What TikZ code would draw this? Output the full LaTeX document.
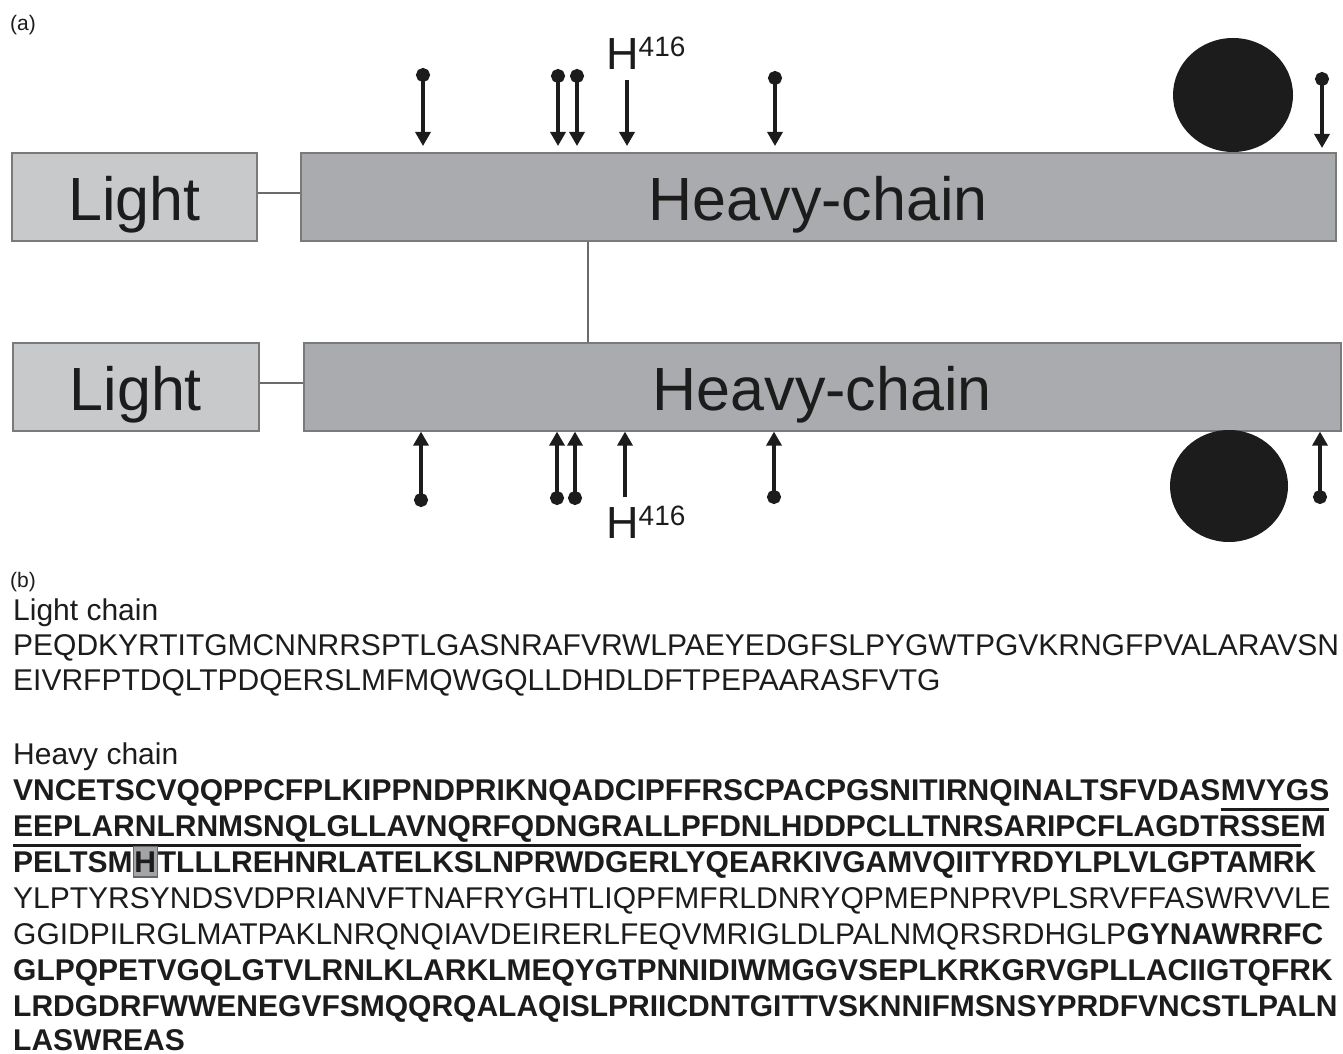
\documentclass[tikz,border=0pt]{standalone}
\usepackage{fontspec}
\setmainfont{Liberation Sans}
\usetikzlibrary{arrows.meta,shapes.geometric}
\definecolor{ink}{HTML}{1C1C1C}
\definecolor{lightfill}{HTML}{C8C9CB}
\definecolor{heavyfill}{HTML}{AAABAE}
\definecolor{boxline}{HTML}{7A7A7A}
\definecolor{linkcol}{HTML}{6B6B6B}
\definecolor{hlfill}{HTML}{A3A4A7}
\definecolor{hlline}{HTML}{666666}
\begin{document}
\begin{tikzpicture}[x=1pt,y=-1pt,
  lightbox/.style={draw=boxline, line width=1.6pt, fill=lightfill, inner sep=0, anchor=north west, minimum height=88pt},
  heavybox/.style={draw=boxline, line width=1.6pt, fill=heavyfill, inner sep=0, anchor=north west, minimum height=88pt},
  bigtxt/.style={anchor=base, inner sep=0, text=ink, font=\fontsize{61}{70}\selectfont},
  link/.style={draw=linkcol, line width=1.5pt},
  pinarrow/.style={draw=ink, line width=3.3pt, {Circle[length=14pt]}-{Triangle[width=15pt,length=14pt]}},
  plainarrow/.style={draw=ink, line width=3.3pt, -{Triangle[width=15pt,length=14pt]}},
  blob/.style={ellipse, fill=ink, inner sep=0},
  hlabel/.style={anchor=base west, inner sep=0, text=ink, font=\fontsize{45}{50}\selectfont},
  panel/.style={anchor=base west, inner sep=0, text=ink, font=\fontsize{21}{25}\selectfont},
  seq/.style={anchor=base west, inner sep=0, text=ink, font=\fontsize{30}{36}\selectfont},
  seqb/.style={anchor=base west, inner sep=0, text=ink, font=\fontsize{30}{36}\selectfont\bfseries},
  uline/.style={draw=ink, line width=2.6pt},
  hlbox/.style={seqb, fill=hlfill, draw=hlline, line width=1.2pt, inner xsep=1pt, inner ysep=5pt}
]
\useasboundingbox (0,0) rectangle (1343,1054);

% ---------- panel (a) ----------
\node[panel] (pa) at (10,31) {(a)};

\node[lightbox, minimum width=245pt] (lb1) at (11,152) {};
\node[heavybox, minimum width=1035pt] (hb1) at (300,152) {};
\node[lightbox, minimum width=246pt] (lb2) at (12,342) {};
\node[heavybox, minimum width=1037pt] (hb2) at (303,342) {};

\node[bigtxt] (lt1) at ([yshift=-23.5pt]lb1.center) {Light};
\node[bigtxt] (ht1) at ([yshift=-23.5pt]hb1.center) {Heavy-chain};
\node[bigtxt] (lt2) at ([yshift=-23.5pt]lb2.center) {Light};
\node[bigtxt] (ht2) at ([yshift=-23.5pt]hb2.center) {Heavy-chain};

\draw[link] ([yshift=4pt]lb1.east) -- ([yshift=4pt]lb1.east -| hb1.west);
\draw[link] ([yshift=4pt]lb2.east) -- ([yshift=4pt]lb2.east -| hb2.west);
\coordinate (vx) at (588,290);
\draw[link] (vx |- hb1.south) -- (vx |- hb2.north);

% top arrows (dot above, pointing down)
\coordinate (t1) at (423,68);
\coordinate (t2) at (558,69);
\coordinate (t3) at (577,69);
\coordinate (tH) at (627,80);
\coordinate (t4) at (775,71);
\coordinate (t5) at (1322,72);
\draw[pinarrow, shorten >=6pt] (t1) -- (t1 |- hb1.north);
\draw[pinarrow, shorten >=6pt] (t2) -- (t2 |- hb1.north);
\draw[pinarrow, shorten >=6pt] (t3) -- (t3 |- hb1.north);
\draw[plainarrow, shorten >=6pt] (tH) -- (tH |- hb1.north);
\draw[pinarrow, shorten >=6pt] (t4) -- (t4 |- hb1.north);
\draw[pinarrow, shorten >=4pt] (t5) -- (t5 |- hb1.north);
\node[hlabel] (h416a) at (606,70) {H\raisebox{13pt}{\fontsize{28}{30}\selectfont 416}};
\node[blob, minimum width=120pt, minimum height=114pt] (g1) at (1233,95) {};

% bottom arrows (dot below, pointing up)
\coordinate (b1) at (421,507);
\coordinate (b2) at (557,505);
\coordinate (b3) at (575,505);
\coordinate (bH) at (625,497);
\coordinate (b4) at (774,504);
\coordinate (b5) at (1320,504);
\draw[pinarrow] (b1) -- (b1 |- hb2.south);
\draw[pinarrow] (b2) -- (b2 |- hb2.south);
\draw[pinarrow] (b3) -- (b3 |- hb2.south);
\draw[plainarrow] (bH) -- (bH |- hb2.south);
\draw[pinarrow] (b4) -- (b4 |- hb2.south);
\draw[pinarrow] (b5) -- (b5 |- hb2.south);
\node[hlabel] (h416b) at (606,538) {H\raisebox{13pt}{\fontsize{28}{30}\selectfont 416}};
\node[blob, minimum width=118pt, minimum height=112pt] (g2) at (1229,486) {};

% ---------- panel (b) ----------
\node[panel] (pb) at (10,587) {(b)};
\node[seq] (lc) at (13,620) {Light chain};
\node[seq] (l1) at (13,655) {PEQDKYRTITGMCNNRRSPTLGASNRAFVRWLPAEYEDGFSLPYGWTPGVKRNGFPVALARAVSN};
\node[seq] (l2) at (13,690) {EIVRFPTDQLTPDQERSLMFMQWGQLLDHDLDFTPEPAARASFVTG};

\node[seq] (hc) at (13,764) {Heavy chain};
\node[seqb] (h1a) at (13,800) {VNCETSCVQQPPCFPLKIPPNDPRIKNQADCIPFFRSCPACPGSNITIRNQINALTSFVDAS};
\node[seqb] (h1b) at (h1a.base east) {MVYGS};
\draw[uline] ([yshift=-9.5pt]h1b.base west) -- ([yshift=-9.5pt]h1b.base east);

\node[seqb] (h2a) at (13,836) {EEPLARNLRNMSNQLGLLAVNQRFQDNGRALLPFDNLHDDPCLLTNRSARIPCFLAGDTRSSE};
\node[seqb] (h2b) at (h2a.base east) {M};
\draw[uline] ([yshift=-9.5pt]h2a.base west) -- ([yshift=-9.5pt]h2a.base east);

\node[seqb] (h3a) at (13,872) {PELTSM};
\node[hlbox] (h3h) at (h3a.base east) {H};
\node[seqb] (h3b) at (h3h.base east) {TLLLREHNRLATELKSLNPRWDGERLYQEARKIVGAMVQIITYRDYLPLVLGPTAMRK};

\node[seq] (h4) at (13,908) {YLPTYRSYNDSVDPRIANVFTNAFRYGHTLIQPFMFRLDNRYQPMEPNPRVPLSRVFFASWRVVLE};
\node[seq] (h5a) at (13,944) {GGIDPILRGLMATPAKLNRQNQIAVDEIRERLFEQVMRIGLDLPALNMQRSRDHGLP};
\node[seqb] (h5b) at (h5a.base east) {GYNAWRRFC};
\node[seqb] (h6) at (13,980) {GLPQPETVGQLGTVLRNLKLARKLMEQYGTPNNIDIWMGGVSEPLKRKGRVGPLLACIIGTQFRK};
\node[seqb] (h7) at (13,1016) {LRDGDRFWWENEGVFSMQQRQALAQISLPRIICDNTGITTVSKNNIFMSNSYPRDFVNCSTLPALN};
\node[seqb] (h8) at (13,1050) {LASWREAS};
\end{tikzpicture}
\end{document}
